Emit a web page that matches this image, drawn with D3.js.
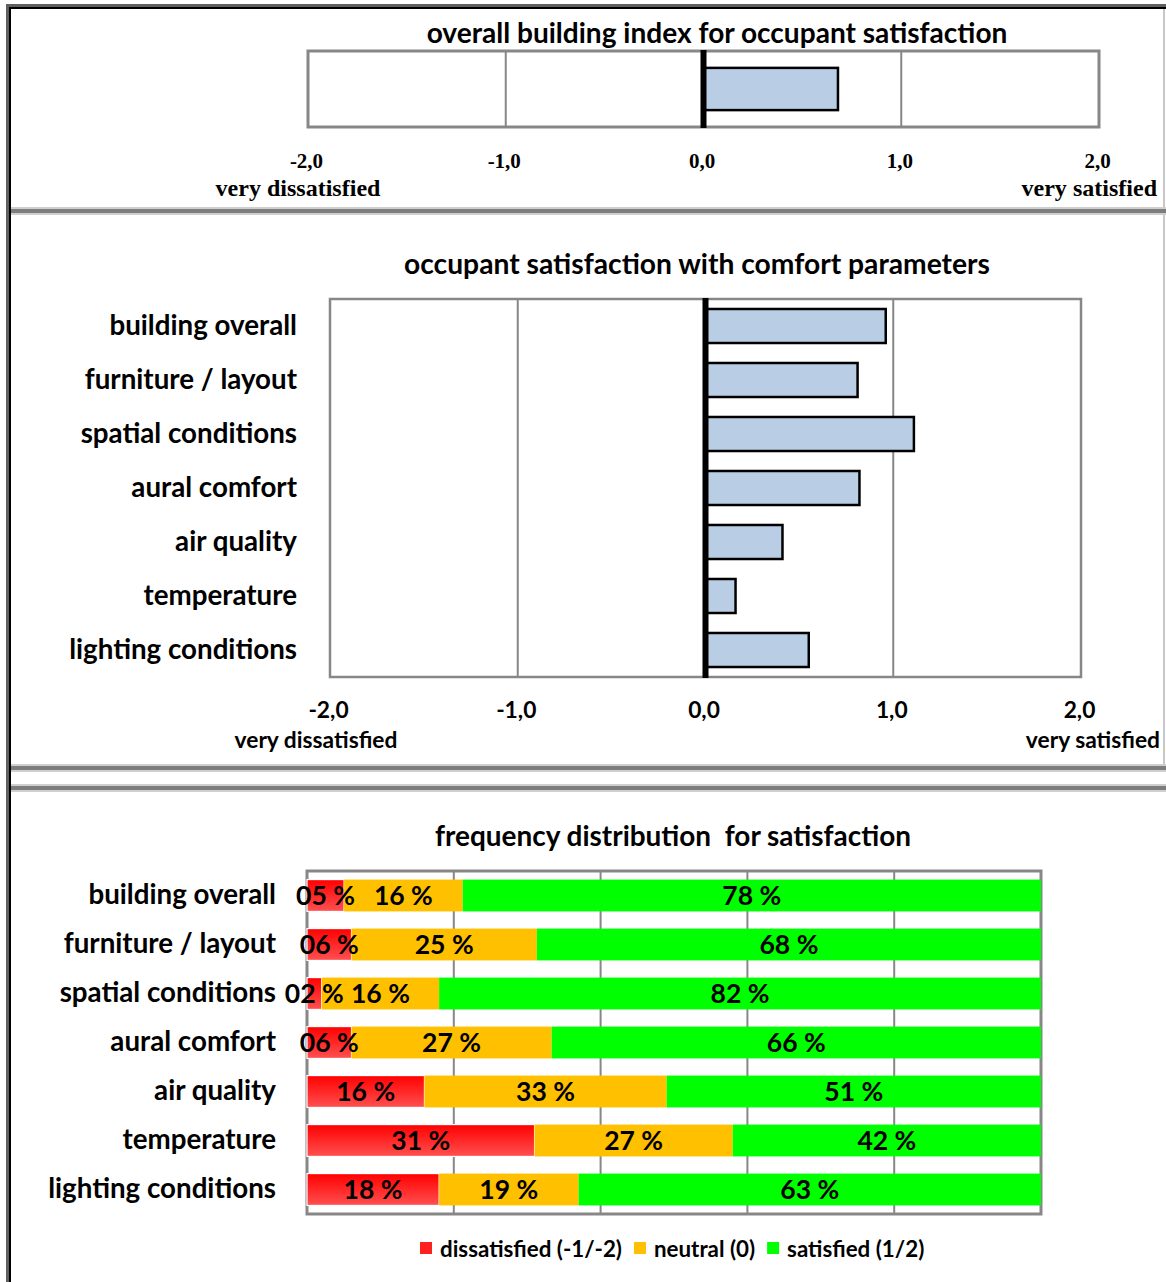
<!DOCTYPE html>
<html><head><meta charset="utf-8">
<script src="https://cdn.jsdelivr.net/npm/d3@7"></script>
<style>
html,body{margin:0;padding:0;background:#fff;}
svg{display:block;}
text{font-family:Lato,"Open Sans",sans-serif;font-weight:bold;fill:#000;}
.serif{font-family:"Liberation Serif","Times New Roman",serif;}
</style></head><body>
<svg id="c" width="1166" height="1282"></svg>
<script>
// ---------------- data ----------------
const tickValues = [-2, -1, 0, 1, 2];
const endLabels = ["very dissatisfied", "very satisfied"];
const titles = ["overall building index for occupant satisfaction",
                "occupant satisfaction with comfort parameters",
                "frequency distribution  for satisfaction"];
const indexCategory = ["overall building index"];
const indexValue = [0.68];
const comfortCategories = ["building overall", "furniture / layout", "spatial conditions",
  "aural comfort", "air quality", "temperature", "lighting conditions"];
const comfortValues = [0.96, 0.81, 1.11, 0.82, 0.41, 0.16, 0.55];
const dissatisfied = [5, 6, 2, 6, 16, 31, 18];
const neutral = [16, 25, 16, 27, 33, 27, 19];
const satisfied = [78, 68, 82, 66, 51, 42, 63];
const seriesKeys = ["dissatisfied", "neutral", "satisfied"];
const seriesNames = ["dissatisfied (-1/-2)", "neutral (0)", "satisfied (1/2)"];

// ---------------- helpers ----------------
const svg = d3.select("#c");
svg.append("rect").attr("width", 1166).attr("height", 1282).attr("fill", "#fff");
const GRID = "#878787";
const locale = d3.formatLocale({decimal: ",", thousands: ".", grouping: [3], currency: ["", ""], minus: "-"});
const fmt1 = locale.format(".1f");
const fmtPct = d => d3.format("02d")(d) + " %";

function fit(sel, target) {
  sel.attr("font-size", 20);
  const w = d3.max(sel.nodes(), n => n.getComputedTextLength());
  const fs = 20 * target / w;
  sel.attr("font-size", fs);
  return fs;
}

const defs = svg.append("defs");
const grad = defs.append("linearGradient").attr("id", "redGrad")
  .attr("x1", 0).attr("y1", 0).attr("x2", 0).attr("y2", 1);
grad.append("stop").attr("offset", "0%").attr("stop-color", "#ff0000");
grad.append("stop").attr("offset", "100%").attr("stop-color", "#ff5050");
const seriesColors = ["url(#redGrad)", "#ffc000", "#00ff00"];
const legendColors = ["#ff2020", "#ffc000", "#00ff00"];

// ---------------- frame ----------------
svg.append("rect").attr("x", 6).attr("y", 4).attr("width", 3).attr("height", 1278).attr("fill", "#606060");
svg.append("rect").attr("x", 9).attr("y", 7).attr("width", 2).attr("height", 1275).attr("fill", "#000");
svg.append("rect").attr("x", 6).attr("y", 4).attr("width", 1160).attr("height", 3).attr("fill", "#606060");
svg.append("rect").attr("x", 9).attr("y", 7).attr("width", 1157).attr("height", 2).attr("fill", "#000");
svg.append("line").attr("x1", 1164).attr("x2", 1164).attr("y1", 9).attr("y2", 768)
  .attr("stroke", "#b5b5b5").attr("stroke-width", 1.5);
function separator(y) {
  svg.append("rect").attr("x", 11).attr("y", y - 2).attr("width", 1155).attr("height", 8).attr("fill", "#cfcfcf");
  svg.append("rect").attr("x", 11).attr("y", y).attr("width", 1155).attr("height", 4).attr("fill", "#7d7d7d");
}
separator(209); separator(766); separator(786);

// ---------------- panel 1 ----------------
{
  const x = d3.scaleLinear().domain([-2, 2]).range([308, 1099]);
  const y = d3.scaleBand().domain(indexCategory).range([51, 127]).paddingInner(0).paddingOuter(0.4);
  const g = svg.append("g");
  g.append("rect").attr("x", x(-2)).attr("y", 51).attr("width", x(2) - x(-2)).attr("height", 76).attr("fill", "#fff");
  g.selectAll(".grid").data(tickValues.filter(d => d !== 0 && Math.abs(d) !== 2)).join("line")
    .attr("x1", d => x(d)).attr("x2", d => x(d)).attr("y1", 51).attr("y2", 127)
    .attr("stroke", GRID).attr("stroke-width", 2);
  g.selectAll(".bar").data(indexValue).join("rect")
    .attr("x", d => x(Math.min(0, d))).attr("width", d => Math.abs(x(d) - x(0)))
    .attr("y", (d, i) => y(indexCategory[i])).attr("height", y.bandwidth())
    .attr("fill", "#b9cde5").attr("stroke", "#000").attr("stroke-width", 2.5);
  g.append("rect").attr("x", x(-2)).attr("y", 51).attr("width", x(2) - x(-2)).attr("height", 76)
    .attr("fill", "none").attr("stroke", GRID).attr("stroke-width", 3);
  g.append("line").attr("x1", x(0)).attr("x2", x(0)).attr("y1", 50).attr("y2", 128)
    .attr("stroke", "#000").attr("stroke-width", 6);
  const t = svg.append("text").text(titles[0]).attr("x", 717).attr("y", 43).attr("text-anchor", "middle");
  fit(t, 581);
  const ax = svg.append("g").attr("transform", "translate(-2,168)")
    .call(d3.axisBottom(x).tickValues(tickValues).tickSize(0).tickFormat(fmt1));
  ax.select(".domain").remove();
  ax.selectAll("text").attr("y", 0).attr("dy", 0).attr("class", "serif").attr("fill", "#000")
    .attr("font-size", 21).attr("font-weight", "bold").attr("font-family", null);
  const e1 = svg.append("text").attr("class", "serif").text(endLabels[0]).attr("x", x(-2) - 10).attr("y", 196).attr("text-anchor", "middle");
  const e2 = svg.append("text").attr("class", "serif").text(endLabels[1]).attr("x", 1157).attr("y", 196).attr("text-anchor", "end");
  fit(e1, 165); e2.attr("font-size", e1.attr("font-size"));
}

// ---------------- panel 2 ----------------
{
  const x = d3.scaleLinear().domain([-2, 2]).range([330, 1081]);
  const y = d3.scaleBand().domain(comfortCategories).range([299, 677]).paddingInner(0.37).paddingOuter(0.185);
  const g = svg.append("g");
  g.selectAll(".grid").data(tickValues.filter(d => d !== 0 && Math.abs(d) !== 2)).join("line")
    .attr("x1", d => x(d)).attr("x2", d => x(d)).attr("y1", 299).attr("y2", 677)
    .attr("stroke", GRID).attr("stroke-width", 2);
  g.selectAll(".bar").data(comfortValues).join("rect")
    .attr("x", d => x(Math.min(0, d))).attr("width", d => Math.abs(x(d) - x(0)))
    .attr("y", (d, i) => y(comfortCategories[i])).attr("height", y.bandwidth())
    .attr("fill", "#b9cde5").attr("stroke", "#000").attr("stroke-width", 2.5);
  g.append("rect").attr("x", x(-2)).attr("y", 299).attr("width", x(2) - x(-2)).attr("height", 378)
    .attr("fill", "none").attr("stroke", GRID).attr("stroke-width", 2.5);
  g.append("line").attr("x1", x(0)).attr("x2", x(0)).attr("y1", 298).attr("y2", 678)
    .attr("stroke", "#000").attr("stroke-width", 6);
  const t = svg.append("text").text(titles[1]).attr("x", 697).attr("y", 274).attr("text-anchor", "middle");
  fit(t, 586);
  const ay = svg.append("g").attr("transform", `translate(${x(-2)},0)`)
    .call(d3.axisLeft(y).tickSize(0).tickPadding(33));
  ay.select(".domain").remove();
  ay.selectAll("text").attr("fill", "#000").attr("font-family", null).attr("font-weight", "bold");
  fit(ay.selectAll("text"), 228);
  const ax = svg.append("g").attr("transform", "translate(-2,718)")
    .call(d3.axisBottom(x).tickValues(tickValues).tickSize(0).tickFormat(fmt1));
  ax.select(".domain").remove();
  const e1 = svg.append("text").text(endLabels[0]).attr("x", 316).attr("y", 748).attr("text-anchor", "middle");
  const e2 = svg.append("text").text(endLabels[1]).attr("x", 1160).attr("y", 748).attr("text-anchor", "end");
  const fs = fit(e1, 163); e2.attr("font-size", fs);
  ax.selectAll("text").attr("y", 0).attr("dy", 0).attr("fill", "#000").attr("font-family", null)
    .attr("font-weight", "bold").attr("font-size", fs);
}

// ---------------- panel 3 ----------------
{
  const x = d3.scaleLinear().domain([0, 1]).range([307, 1041]);
  const y = d3.scaleBand().domain(comfortCategories).range([871, 1214]).paddingInner(0.35).paddingOuter(0.175);
  const rows = comfortCategories.map((c, i) => ({cat: c, dissatisfied: dissatisfied[i], neutral: neutral[i], satisfied: satisfied[i]}));
  const stacked = d3.stack().keys(seriesKeys).offset(d3.stackOffsetExpand)(rows);
  const g = svg.append("g");
  g.selectAll(".grid").data(x.ticks(5).filter(d => d > 0 && d < 1)).join("line")
    .attr("x1", d => x(d)).attr("x2", d => x(d)).attr("y1", 871).attr("y2", 1214)
    .attr("stroke", GRID).attr("stroke-width", 2);
  g.append("rect").attr("x", 307).attr("y", 871).attr("width", x(1) - x(0)).attr("height", 343)
    .attr("fill", "none").attr("stroke", GRID).attr("stroke-width", 3);
  const layers = g.selectAll(".layer").data(stacked).join("g").attr("fill", (d, i) => seriesColors[i]);
  layers.selectAll("rect").data(d => d.map(s => ({s, key: d.key}))).join("rect")
    .attr("x", d => x(d.s[0])).attr("width", d => x(d.s[1]) - x(d.s[0]))
    .attr("y", d => y(d.s.data.cat)).attr("height", y.bandwidth())
    .attr("stroke", d => d.key === "dissatisfied" ? "#fff" : "none").attr("stroke-width", 1.2);
  const labels = g.selectAll(".lab").data(stacked.flatMap(d => d.map(s => ({s, v: s.data[d.key]})))).join("text")
    .attr("x", d => (x(d.s[0]) + x(d.s[1])) / 2)
    .attr("y", d => y(d.s.data.cat) + y.bandwidth() / 2 + 9)
    .attr("text-anchor", "middle").text(d => fmtPct(d.v));
  const lfs = (() => { const tmp = svg.append("text").text(fmtPct(78)); const f = fit(tmp, 59); tmp.remove(); return f; })();
  labels.attr("font-size", lfs);
  const t = svg.append("text").text(titles[2]).attr("x", 673).attr("y", 846).attr("text-anchor", "middle")
    .style("white-space", "pre");
  fit(t, 476);
  const ay = svg.append("g").attr("transform", `translate(307,0)`)
    .call(d3.axisLeft(y).tickSize(0).tickPadding(31));
  ay.select(".domain").remove();
  ay.selectAll("text").attr("fill", "#000").attr("font-family", null).attr("font-weight", "bold");
  fit(ay.selectAll("text"), 228);

  // legend
  const lg = svg.append("g");
  const items = lg.selectAll("g").data(seriesNames).join("g");
  items.append("rect").attr("width", 12).attr("height", 12).attr("y", 1242)
    .attr("fill", (d, i) => legendColors[i]);
  const lt = items.append("text").text(d => d).attr("y", 1257);
  const tmp = svg.append("text").text(seriesNames[0]);
  const f = fit(tmp, 182); tmp.remove();
  lt.attr("font-size", f);
  let cx = 420;
  items.each(function () {
    const it = d3.select(this);
    it.select("rect").attr("x", cx);
    it.select("text").attr("x", cx + 20);
    cx += 20 + it.select("text").node().getComputedTextLength() + 12;
  });
}
</script>
</body></html>
